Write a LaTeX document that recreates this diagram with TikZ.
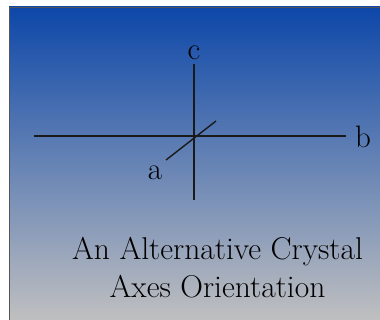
\documentclass[tikz,border=0pt]{standalone}
\definecolor{topblue}{HTML}{0D47A9}
\definecolor{midblue}{HTML}{7F86B6}
\definecolor{botgray}{HTML}{C0C0C0}
\definecolor{framegray}{HTML}{555555}
\definecolor{axisc}{HTML}{1A1A1A}
\tikzset{
  axis line/.style={draw=axisc, line width=1.4pt},
  axlabel/.style={anchor=base, inner sep=0pt, font=\fontsize{31}{36}\selectfont},
  caption/.style={anchor=base, inner sep=0pt, font=\fontsize{31.5}{37}\selectfont}
}
\begin{document}
\begin{tikzpicture}[x=1pt,y=-1pt]
\useasboundingbox (0,0) rectangle (380,320);
\fill[white] (0,0) rectangle (380,320);
\shade[top color=topblue, middle color=midblue, bottom color=botgray] (9,7) rectangle (381,321);
\draw[framegray, line width=1pt] (9.5,330) -- (9.5,7.5) -- (390,7.5);
% axis end points
\coordinate (ctop) at (194,64);
\coordinate (cbot) at (194,200);
\coordinate (bleft) at (34,136);
\coordinate (bright) at (346,136);
\coordinate (alow) at (166,160);
\coordinate (ahigh) at (216,121);
\draw[axis line] (ctop) -- (cbot);
\draw[axis line] (bleft) -- (bright);
\draw[axis line] (alow) -- (ahigh);
% labels
\node[axlabel] (lc) at (194,60) {c};
\node[axlabel] (lb) at (363,148) {b};
\node[axlabel] (la) at (155,180) {a};
\node[caption] (t1) at (217.5,260) {An Alternative Crystal};
\node[caption] (t2) at (217.5,298) {Axes Orientation};
\end{tikzpicture}
\end{document}
